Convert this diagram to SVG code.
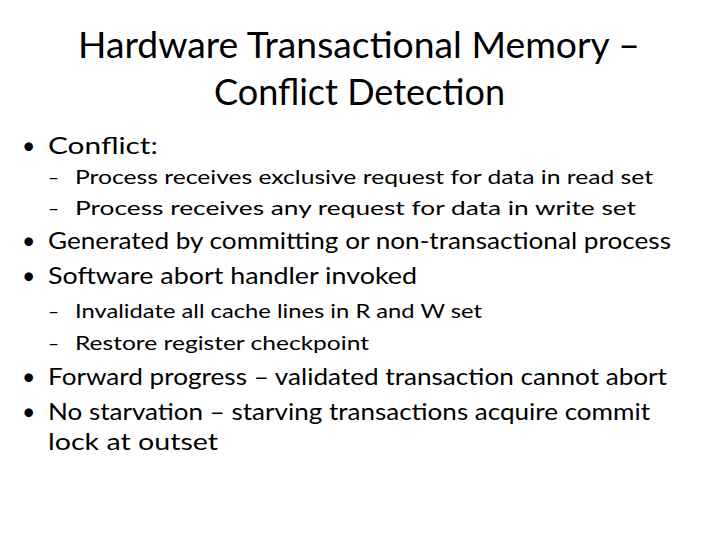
<svg xmlns="http://www.w3.org/2000/svg" width="720" height="540" viewBox="0 0 720 540">
<style>
text{font-family:Lato,"Open Sans","Liberation Sans",sans-serif;fill:#000}
.t{font-size:36px}
.b{font-size:23px}
.s{font-size:19px}
</style>
<rect width="720" height="540" fill="#fff"/>
<g id="title">
<text class="t" x="78" y="58" textLength="562" lengthAdjust="spacingAndGlyphs">Hardware Transactional Memory –</text>
<text class="t" x="214" y="105" textLength="291" lengthAdjust="spacingAndGlyphs">Conflict Detection</text>
</g>
<g id="body">
<text class="b" x="22" y="154">•</text>
<text class="b" x="48" y="154" textLength="110" lengthAdjust="spacingAndGlyphs">Conflict:</text>
<text class="s" x="48" y="184">–</text>
<text class="s" x="75" y="184" textLength="578" lengthAdjust="spacingAndGlyphs">Process receives exclusive request for data in read set</text>
<text class="s" x="48" y="215">–</text>
<text class="s" x="75" y="215" textLength="561" lengthAdjust="spacingAndGlyphs">Process receives any request for data in write set</text>
<text class="b" x="22" y="249">•</text>
<text class="b" x="48" y="249" textLength="623" lengthAdjust="spacingAndGlyphs">Generated by committing or non-transactional process</text>
<text class="b" x="22" y="284">•</text>
<text class="b" x="48" y="284" textLength="369" lengthAdjust="spacingAndGlyphs">Software abort handler invoked</text>
<text class="s" x="48" y="318">–</text>
<text class="s" x="75" y="318" textLength="407" lengthAdjust="spacingAndGlyphs">Invalidate all cache lines in R and W set</text>
<text class="s" x="48" y="350">–</text>
<text class="s" x="75" y="350" textLength="294" lengthAdjust="spacingAndGlyphs">Restore register checkpoint</text>
<text class="b" x="22" y="385">•</text>
<text class="b" x="48" y="385" textLength="619" lengthAdjust="spacingAndGlyphs">Forward progress – validated transaction cannot abort</text>
<text class="b" x="22" y="420">•</text>
<text class="b" x="48" y="420" textLength="602" lengthAdjust="spacingAndGlyphs">No starvation – starving transactions acquire commit</text>
<text class="b" x="48" y="450" textLength="170" lengthAdjust="spacingAndGlyphs">lock at outset</text>
</g>
</svg>
